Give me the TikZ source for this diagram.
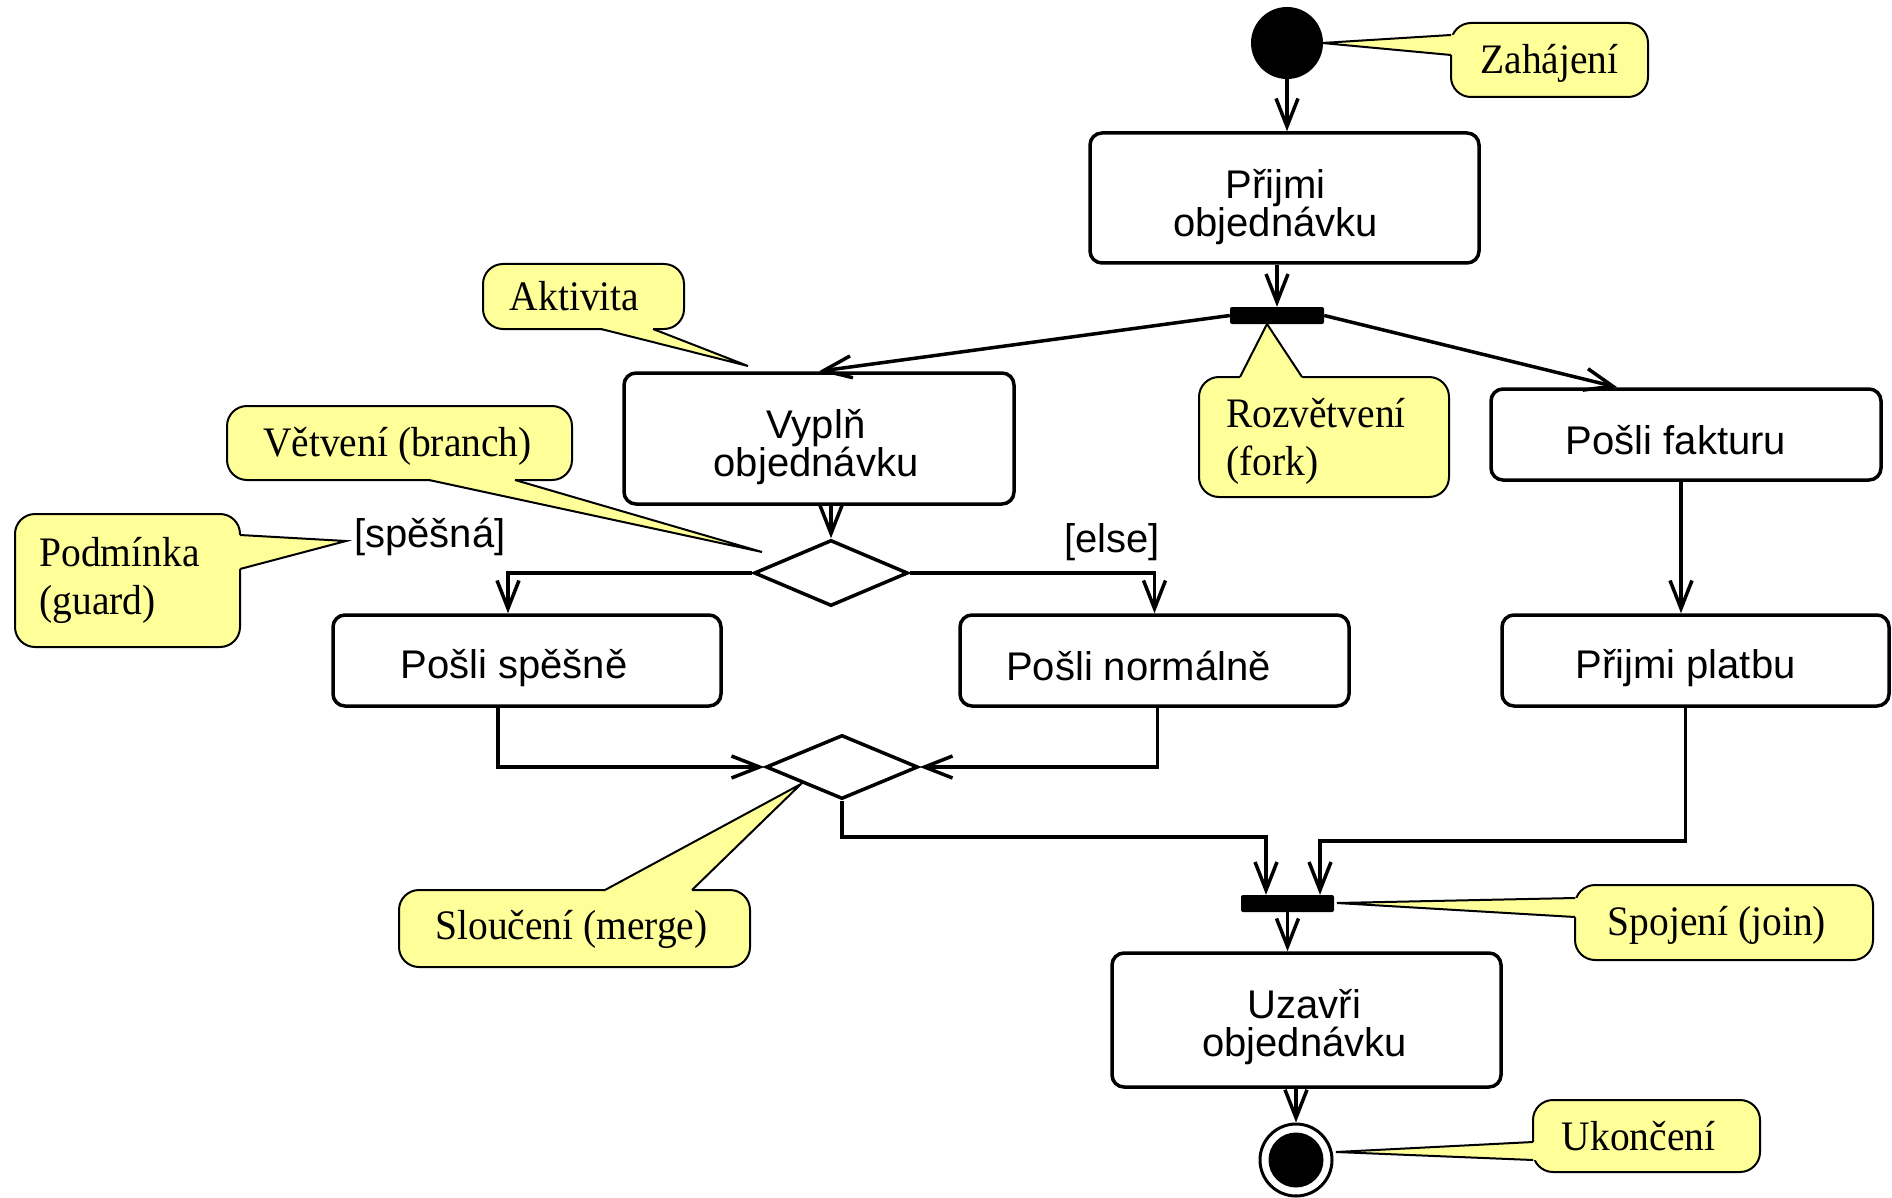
\documentclass[tikz,border=0pt]{standalone}
\usepackage{fontspec}
\setmainfont{Liberation Serif}
\newfontfamily\boxfont{Liberation Sans}
\newfontfamily\notefont[FakeStretch=0.94]{Liberation Serif}
\usetikzlibrary{arrows.meta,shapes.geometric,calc}
\definecolor{noteyellow}{RGB}{255,255,153}
\begin{document}
\begin{tikzpicture}[x=1pt,y=-1pt,
  act/.style={draw, line width=3.5pt, rounded corners=12pt, inner sep=0pt},
  lbl/.style={font=\boxfont\fontsize{40}{38}\selectfont, align=center, inner sep=0pt},
  note/.style={draw, line width=2pt, fill=noteyellow, rounded corners=20pt, inner sep=0pt},
  ntxt/.style={font=\notefont\fontsize{42}{48}\selectfont, inner sep=0pt},
  wedgeline/.style={draw, line width=2pt, line join=miter},
  conn/.style={line width=3.5pt},
  arr/.style={conn, -{Straight Barb[length=28pt,width=22pt,line width=3.5pt]}},
  bar/.style={fill=black, rounded corners=2pt, inner sep=0pt},
  dec/.style={diamond, draw, line width=3.5pt, inner sep=0pt, fill=white},
  guard/.style={font=\boxfont\fontsize{40}{38}\selectfont, inner sep=0pt}
]
\useasboundingbox (0,0) rectangle (1892,1198);

% ---------- notes ----------
\node[note, minimum width=197pt, minimum height=74pt, label={[ntxt,yshift=-3pt]center:Zahájení}] (zah) at (1549.5,60) {};
\fill[noteyellow] (1451,35) -- (1322,43) -- (1451,55) -- (1462,55) -- (1462,35) -- cycle;
\draw[wedgeline] (1451,35) -- (1322,43) -- (1451,55);

\node[note, minimum width=201pt, minimum height=65pt, label={[ntxt,xshift=-9pt]center:Aktivita}] (akt) at (583.5,296.5) {};
\fill[noteyellow] (601,329) -- (748,366) -- (653,329) -- (653,318) -- (601,318) -- cycle;
\draw[wedgeline] (601,329) -- (748,366) -- (653,329);

\node[note, minimum width=345pt, minimum height=74pt, label={[ntxt,xshift=-2pt,yshift=-3pt]center:Větvení (branch)}] (vet) at (399.5,443) {};
\fill[noteyellow] (429,480) -- (762,552) -- (515,480) -- (515,469) -- (429,469) -- cycle;
\draw[wedgeline] (429,480) -- (762,552) -- (515,480);

\node[note, minimum width=225pt, minimum height=133pt, label={[ntxt,align=left,xshift=-8pt]center:Podmínka\\(guard)}] (pod) at (127.5,580.5) {};
\fill[noteyellow] (240,535) -- (346,541) -- (240,569) -- (229,569) -- (229,535) -- cycle;
\draw[wedgeline] (240,535) -- (346,541) -- (240,569);

\node[note, minimum width=250pt, minimum height=120pt, label={[ntxt,align=left,xshift=-8pt,yshift=-4pt]center:Rozvětvení\\(fork)}] (roz) at (1324,437) {};
\fill[noteyellow] (1240,377) -- (1267,324) -- (1302,377) -- (1302,388) -- (1240,388) -- cycle;
\draw[wedgeline] (1240,377) -- (1267,324) -- (1302,377);

\node[note, minimum width=351pt, minimum height=77pt, label={[ntxt,xshift=-3pt,yshift=-1pt]center:Sloučení (merge)}] (slo) at (574.5,928.5) {};
\fill[noteyellow] (605,890) -- (801,784) -- (692,890) -- (692,901) -- (605,901) -- cycle;
\draw[wedgeline] (605,890) -- (801,784) -- (692,890);

\node[note, minimum width=298pt, minimum height=75pt, label={[ntxt,xshift=-7pt,yshift=-3pt]center:Spojení (join)}] (spo) at (1724,922.5) {};
\fill[noteyellow] (1575,898) -- (1337,903) -- (1575,917) -- (1586,917) -- (1586,898) -- cycle;
\draw[wedgeline] (1575,898) -- (1337,903) -- (1575,917);

\node[note, minimum width=227pt, minimum height=72pt, label={[ntxt,xshift=-8pt]center:Ukončení}] (ukon) at (1646.5,1136) {};
\fill[noteyellow] (1533,1142) -- (1336,1152) -- (1533,1160) -- (1544,1160) -- (1544,1142) -- cycle;
\draw[wedgeline] (1533,1142) -- (1336,1152) -- (1533,1160);

% ---------- activity nodes ----------
\node[circle, fill=black, minimum size=72pt, inner sep=0pt] (start) at (1287,43) {};
\node[act, minimum width=389pt, minimum height=130pt, label={[lbl,xshift=-9pt,yshift=-9pt]center:Přijmi\\objednávku}] (prijmi) at (1284.5,198) {};
\node[bar, minimum width=94pt, minimum height=17pt] (fork) at (1277,315.5) {};
\node[act, minimum width=390pt, minimum height=131pt, label={[lbl,xshift=-3pt,yshift=-9pt]center:Vyplň\\objednávku}] (vypln) at (819,438.5) {};
\node[act, minimum width=390pt, minimum height=91pt, label={[lbl,xshift=-10pt,yshift=-6pt]center:Pošli fakturu}] (fakt) at (1686,434.5) {};
\node[act, minimum width=387pt, minimum height=91pt, label={[lbl,xshift=-10pt,yshift=-8pt]center:Přijmi platbu}] (platba) at (1695.5,660.5) {};
\node[dec, minimum width=154pt, minimum height=66pt] (branch) at (831,573) {};
\node[act, minimum width=388pt, minimum height=91pt, label={[lbl,xshift=-13pt,yshift=-8pt]center:Pošli spěšně}] (spesne) at (527,660.5) {};
\node[act, minimum width=389pt, minimum height=91pt, label={[lbl,xshift=-16pt,yshift=-5pt]center:Pošli normálně}] (normal) at (1154.5,660.5) {};
\node[dec, minimum width=152pt, minimum height=64pt] (merge) at (842,767) {};
\node[bar, minimum width=93pt, minimum height=17pt] (join) at (1287.5,903.5) {};
\node[act, minimum width=389pt, minimum height=134pt, label={[lbl,xshift=-2pt,yshift=-7pt]center:Uzavři\\objednávku}] (uzavri) at (1306.5,1020) {};
\node[circle, draw, line width=3pt, fill=white, minimum size=72pt, inner sep=0pt] (end) at (1296,1160) {};
\node[circle, fill=black, minimum size=55pt, inner sep=0pt] (endin) at (end) {};

% guards
\node[guard] (g1) at (430,537) {[spěšná]};
\node[guard] (g2) at (1112,542) {[else]};

% ---------- connectors ----------
\draw[arr] (start.south) -- (start.south |- prijmi.north);
\draw[arr] (prijmi.south -| fork.north) -- (fork.north);
\draw[arr] (fork.west) -- (vypln.north);
\draw[arr] (fork.east) -- ([xshift=128pt]fakt.north west);
\draw[arr] ([xshift=-5pt]fakt.south) -- ([xshift=-5pt]fakt.south |- platba.north);
\draw[arr] (branch.north |- vypln.south) -- (branch.north);
\draw[arr] (branch.west) -| ([xshift=-19pt]spesne.north);
\draw[arr] (branch.east) -| (normal.north);
\draw[arr] ([xshift=-29pt]spesne.south) |- (merge.west);
\draw[arr] ([xshift=3pt]normal.south) |- (merge.east);
\coordinate (j1) at (1266,837);
\coordinate (j2) at (1320,841);
\draw[arr] (merge.south) |- (j1) -- (j1 |- join.north);
\draw[arr] ([xshift=-10pt]platba.south) |- (j2) -- (j2 |- join.north);
\draw[arr] (join.south) -- (join.south |- uzavri.north);
\draw[arr] (end.north |- uzavri.south) -- (end.north);
\end{tikzpicture}
\end{document}
